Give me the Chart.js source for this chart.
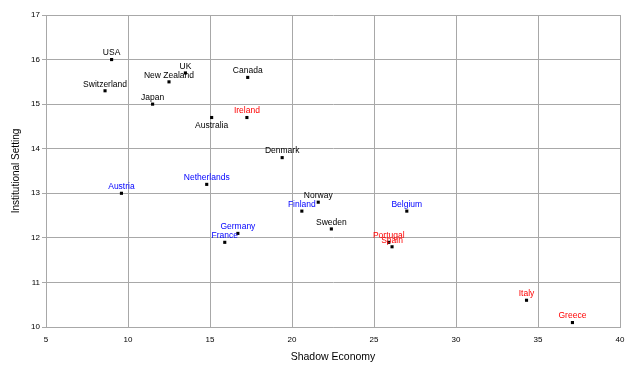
<!DOCTYPE html>
<html>
<head>
<meta charset="utf-8">
<script src="https://cdn.jsdelivr.net/npm/chart.js@4"></script>
<style>
  html, body { margin: 0; padding: 0; background: #fff; }
  #wrap { width: 628px; height: 370px; }
</style>
</head>
<body>
<div id="wrap"><canvas id="scatter"></canvas></div>
<script>
const countries = ['USA', 'Switzerland', 'Japan', 'New Zealand', 'UK', 'Australia', 'Canada', 'Ireland',
    'Denmark', 'Austria', 'Netherlands', 'Germany', 'France', 'Norway', 'Finland', 'Sweden',
    'Belgium', 'Portugal', 'Spain', 'Italy', 'Greece'];
const shadowEconomy = [9.0, 8.6, 11.5, 12.5, 13.5, 15.1, 17.3, 17.25,
    19.4, 9.6, 14.8, 16.7, 15.9, 21.6, 20.6, 22.4,
    27.0, 25.9, 26.1, 34.3, 37.1];
const institutionalSetting = [16.0, 15.3, 15.0, 15.5, 15.7, 14.7, 15.6, 14.7,
    13.8, 13.0, 13.2, 12.1, 11.9, 12.8, 12.6, 12.2,
    12.6, 11.9, 11.8, 10.6, 10.1];
const redGroup = ['Ireland', 'Portugal', 'Spain', 'Italy', 'Greece'];
const blueGroup = ['Austria', 'Netherlands', 'Germany', 'France', 'Finland', 'Belgium'];

const points = countries.map((c, i) => ({ x: shadowEconomy[i], y: institutionalSetting[i] }));

const gridColor = '#a8a8a8';
const tickFont = { family: "'Liberation Sans', Arial, sans-serif", size: 8 };

// country names next to each marker
const pointLabels = {
    id: 'pointLabels',
    afterDatasetsDraw(chart) {
        const ctx = chart.ctx;
        const meta = chart.getDatasetMeta(0);
        ctx.save();
        ctx.font = "8.5px 'Liberation Sans', Arial, sans-serif";
        ctx.textAlign = 'center';
        ctx.textBaseline = 'middle';
        meta.data.forEach((el, i) => {
            const name = countries[i];
            let color = '#000';
            if (redGroup.includes(name)) color = '#ff0000';
            if (blueGroup.includes(name)) color = '#0000ff';
            ctx.fillStyle = color;
            const dy = name === 'Australia' ? 8 : -6.5;
            ctx.fillText(name, el.x, el.y + dy);
        });
        ctx.restore();
    }
};

new Chart(document.getElementById('scatter'), {
    type: 'scatter',
    data: {
        datasets: [{
            data: points,
            pointStyle: 'rect',
            pointRadius: 2.2,
            pointHoverRadius: 2.2,
            backgroundColor: '#000',
            borderWidth: 0
        }]
    },
    options: {
        responsive: true,
        maintainAspectRatio: false,
        animation: false,
        layout: { padding: { top: 15, right: 8, left: 0, bottom: 0 } },
        scales: {
            x: {
                type: 'linear',
                min: 5,
                max: 40,
                ticks: { stepSize: 5, color: '#000', font: tickFont, padding: 8, maxRotation: 0 },
                grid: { color: gridColor, drawTicks: false },
                border: { color: gridColor },
                title: {
                    display: true,
                    text: 'Shadow Economy',
                    color: '#000',
                    font: { family: "'Liberation Sans', Arial, sans-serif", size: 10.5 },
                    padding: { top: 0, bottom: 7 }
                },
                afterFit(scale) {
                    scale.height = 43;
                    scale.paddingLeft = 0;
                    scale.paddingRight = 0;
                }
            },
            y: {
                type: 'linear',
                min: 10,
                max: 17,
                ticks: { stepSize: 1, color: '#000', font: tickFont, padding: 2 },
                grid: { color: gridColor, tickLength: 4 },
                border: { color: gridColor },
                title: {
                    display: true,
                    text: 'Institutional Setting',
                    color: '#000',
                    font: { family: "'Liberation Sans', Arial, sans-serif", size: 10 },
                    padding: { top: 10, bottom: 0 }
                },
                afterFit(scale) {
                    scale.width = 46;
                    scale.paddingTop = 0;
                    scale.paddingBottom = 0;
                }
            }
        },
        plugins: {
            legend: { display: false },
            tooltip: { enabled: false }
        }
    },
    plugins: [pointLabels]
});
</script>
</body>
</html>
